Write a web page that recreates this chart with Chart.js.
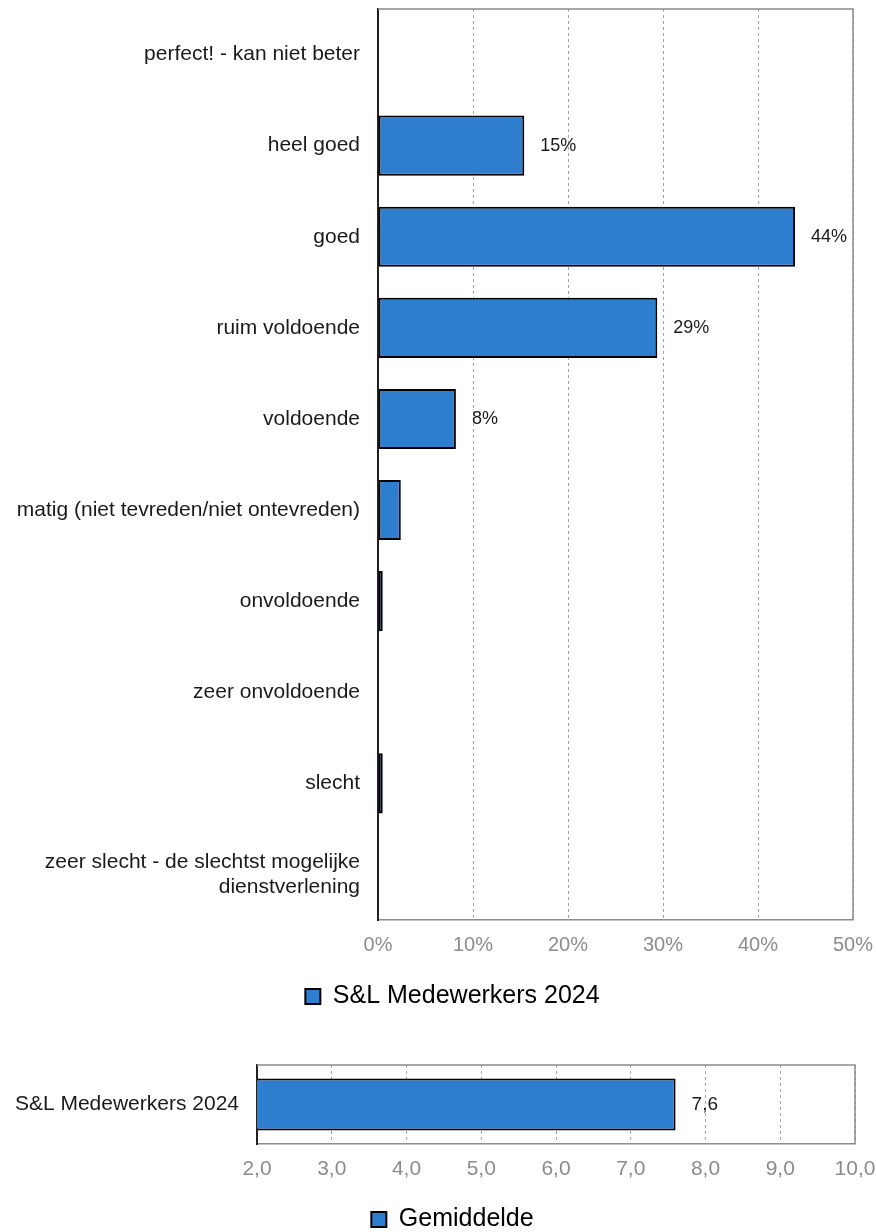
<!DOCTYPE html>
<html>
<head>
<meta charset="utf-8">
<script src="https://cdn.jsdelivr.net/npm/chart.js@4/dist/chart.umd.min.js"></script>
<style>
    html, body { margin: 0; padding: 0; background: #fff; overflow: hidden; }
    body { width: 876px; height: 1232px; position: relative; }
    .box { position: absolute; left: 0; width: 876px; }
    #top-box { top: 0; height: 1035px; }
    #bottom-box { top: 1020px; height: 230px; }
</style>
</head>
<body>
<div class="box" id="top-box"><canvas id="scoreChart"></canvas></div>
<div class="box" id="bottom-box"><canvas id="avgChart"></canvas></div>
<script>
// Data
const categories = [
    'perfect! - kan niet beter',
    'heel goed',
    'goed',
    'ruim voldoende',
    'voldoende',
    'matig (niet tevreden/niet ontevreden)',
    'onvoldoende',
    'zeer onvoldoende',
    'slecht',
    ['zeer slecht - de slechtst mogelijke', 'dienstverlening']
];
const shares = [0, 15.4, 43.9, 29.4, 8.2, 2.4, 0.5, 0, 0.5, 0];
const percentTicks = [0, 10, 20, 30, 40, 50];
const seriesName = 'S&L Medewerkers 2024';

const avgCategories = ['S&L Medewerkers 2024'];
const avgValues = [7.6];
const avgTicks = [2, 3, 4, 5, 6, 7, 8, 9, 10];
const avgSeriesName = 'Gemiddelde';

const FONT = "'Liberation Sans', Arial, sans-serif";
const BAR_BLUE = '#2e7ed0';
const GRID_GREY = '#a6a6a6';
const FRAME_GREY = '#8c8c8c';
const TICK_GREY = '#8c8c8c';
const TEXT_DARK = '#1a1a1a';

// top + right edge of the plot area (bottom is the x axis line, left the y axis line)
const framePlugin = {
    id: 'frame',
    beforeDatasetsDraw(chart) {
        const a = chart.chartArea;
        const ctx = chart.ctx;
        ctx.save();
        ctx.strokeStyle = FRAME_GREY;
        ctx.lineWidth = 1.5;
        ctx.beginPath();
        ctx.moveTo(a.left, a.top);
        ctx.lineTo(a.right, a.top);
        ctx.lineTo(a.right, a.bottom);
        ctx.stroke();
        ctx.restore();
    }
};

// value labels right of the bars
const valueLabels = {
    id: 'valueLabels',
    afterDatasetsDraw(chart, args, opts) {
        const ctx = chart.ctx;
        const meta = chart.getDatasetMeta(0);
        const data = chart.data.datasets[0].data;
        ctx.save();
        ctx.font = opts.font;
        ctx.fillStyle = TEXT_DARK;
        ctx.textAlign = 'left';
        ctx.textBaseline = 'middle';
        meta.data.forEach((bar, i) => {
            if (data[i] < opts.min) return;
            ctx.fillText(opts.format(data[i]), bar.x + opts.offset, bar.y);
        });
        ctx.restore();
    }
};

// the legend sits a little right of the page centre in the original
const legendShift = {
    id: 'legendShift',
    afterLayout(chart, args, opts) {
        if (!chart.legend) return;
        chart.legend.left += opts.dx;
        chart.legend.right += opts.dx;
    }
};

// the layout should not reserve room for the outer tick labels
function fixX(height) {
    return (scale) => {
        scale.height = height;
        scale.paddingLeft = 0;
        scale.paddingRight = 0;
    };
}
function fixY(width) {
    return (scale) => {
        scale.width = width;
        scale.paddingTop = 0;
        scale.paddingBottom = 0;
    };
}

function legendItem(text) {
    return () => [{
        text: text,
        fillStyle: BAR_BLUE,
        strokeStyle: '#000',
        lineWidth: 2,
        datasetIndex: 0
    }];
}

new Chart(document.getElementById('scoreChart'), {
    type: 'bar',
    data: {
        labels: categories,
        datasets: [{
            label: seriesName,
            data: shares,
            backgroundColor: BAR_BLUE,
            borderColor: '#000',
            borderWidth: 2,
            borderSkipped: false,
            categoryPercentage: 1,
            barPercentage: 0.66
        }]
    },
    options: {
        indexAxis: 'y',
        responsive: true,
        maintainAspectRatio: false,
        animation: false,
        layout: { padding: { top: 9, right: 23, bottom: 16, left: 0 } },
        plugins: {
            tooltip: { enabled: false },
            legendShift: { dx: 26 },
            legend: {
                position: 'bottom',
                labels: {
                    boxWidth: 15,
                    boxHeight: 15,
                    padding: 10,
                    color: TEXT_DARK,
                    font: { family: FONT, size: 25 },
                    generateLabels: legendItem(seriesName)
                }
            },
            valueLabels: {
                font: '18px ' + FONT,
                offset: 16,
                min: 5,
                format: v => Math.round(v) + '%'
            }
        },
        scales: {
            x: {
                min: 0,
                max: 50,
                afterBuildTicks: (scale) => { scale.ticks = percentTicks.map(v => ({ value: v })); },
                afterFit: fixX(54),
                ticks: {
                    color: TICK_GREY,
                    padding: 13,
                    maxRotation: 0,
                    font: { family: FONT, size: 20 },
                    callback: v => v + '%'
                },
                grid: { color: GRID_GREY, lineWidth: 1, drawTicks: false },
                border: { display: true, color: FRAME_GREY, width: 1.5, dash: [3, 3] }
            },
            y: {
                afterFit: fixY(378),
                ticks: {
                    color: TEXT_DARK,
                    padding: 18,
                    font: { family: FONT, size: 21 }
                },
                grid: { display: false, drawTicks: false },
                border: { display: true, color: '#222', width: 2 }
            }
        }
    },
    plugins: [framePlugin, valueLabels, legendShift]
});

new Chart(document.getElementById('avgChart'), {
    type: 'bar',
    data: {
        labels: avgCategories,
        datasets: [{
            label: avgSeriesName,
            data: avgValues,
            backgroundColor: BAR_BLUE,
            borderColor: '#000',
            borderWidth: 2,
            borderSkipped: false,
            categoryPercentage: 1,
            barPercentage: 0.66
        }]
    },
    options: {
        indexAxis: 'y',
        responsive: true,
        maintainAspectRatio: false,
        animation: false,
        layout: { padding: { top: 45, right: 21, bottom: 8, left: 0 } },
        plugins: {
            tooltip: { enabled: false },
            legendShift: { dx: 25 },
            legend: {
                position: 'bottom',
                labels: {
                    boxWidth: 15,
                    boxHeight: 15,
                    padding: 10,
                    color: TEXT_DARK,
                    font: { family: FONT, size: 25 },
                    generateLabels: legendItem(avgSeriesName)
                }
            },
            valueLabels: {
                font: '19px ' + FONT,
                offset: 16,
                min: 0,
                format: v => v.toFixed(1).replace('.', ',')
            }
        },
        scales: {
            x: {
                min: 2,
                max: 10,
                afterBuildTicks: (scale) => { scale.ticks = avgTicks.map(v => ({ value: v })); },
                afterFit: fixX(53),
                ticks: {
                    color: TICK_GREY,
                    padding: 13,
                    maxRotation: 0,
                    font: { family: FONT, size: 21 },
                    callback: v => v.toFixed(1).replace('.', ',')
                },
                grid: { color: GRID_GREY, lineWidth: 1, drawTicks: false },
                border: { display: true, color: FRAME_GREY, width: 1.5, dash: [3, 3] }
            },
            y: {
                afterFit: fixY(257),
                ticks: {
                    color: TEXT_DARK,
                    padding: 18,
                    font: { family: FONT, size: 21 }
                },
                grid: { display: false, drawTicks: false },
                border: { display: true, color: '#222', width: 2 }
            }
        }
    },
    plugins: [framePlugin, valueLabels, legendShift]
});
</script>
</body>
</html>
